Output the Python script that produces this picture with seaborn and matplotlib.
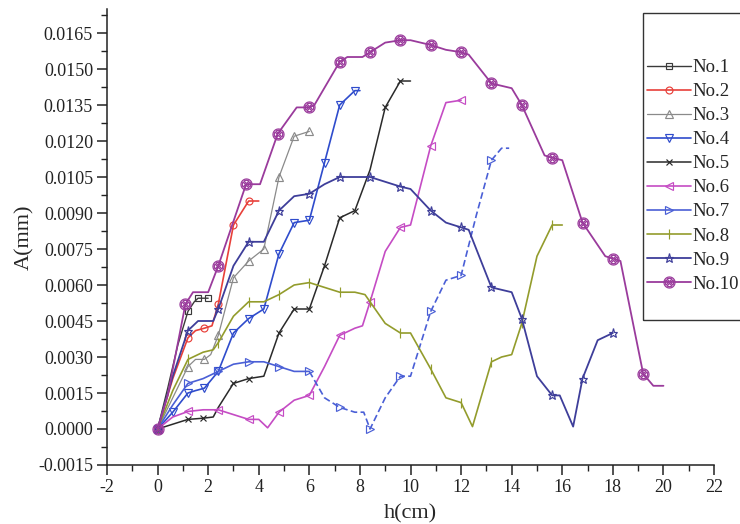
import matplotlib
matplotlib.use("Agg")
import matplotlib.pyplot as plt
import matplotlib.patches as mpatches
import numpy as np
import seaborn as sns

# ---- data: amplitude A (mm) versus height h (cm) ----
labels = ["No.1", "No.2", "No.3", "No.4", "No.5", "No.6", "No.7", "No.8", "No.9", "No.10"]

h1 = [0, 0.4, 0.8, 1.2, 1.45, 1.6, 2.0]
a1 = [0, 0.0017, 0.0035, 0.0049, 0.0053, 0.00545, 0.00545]
m1 = [0, 3, 5, 6]

h2 = [0, 0.6, 1.2, 1.5, 1.85, 2.15, 2.4, 3.0, 3.6, 4.0]
a2 = [0, 0.0021, 0.0038, 0.0041, 0.0042, 0.0043, 0.0052, 0.0085, 0.0095, 0.0095]
m2 = [0, 2, 4, 6, 7, 8]

h3 = [0, 0.6, 1.2, 1.5, 1.85, 2.1, 2.4, 3.0, 3.6, 4.2, 4.8, 5.4, 6.0]
a3 = [0, 0.0013, 0.0026, 0.0029, 0.0029, 0.0031, 0.0039, 0.0063, 0.0070, 0.0075, 0.0105, 0.0122, 0.0124]
m3 = [0, 2, 4, 6, 7, 8, 9, 10, 11, 12]

h4 = [0, 0.6, 1.2, 1.5, 1.85, 2.4, 3.0, 3.6, 4.2, 4.8, 5.4, 6.0, 6.6, 7.2, 7.8, 8.0]
a4 = [0, 0.0007, 0.0015, 0.0016, 0.0017, 0.0024, 0.0040, 0.0046, 0.0050, 0.0073, 0.0086, 0.0087,
      0.0111, 0.0135, 0.0141, 0.0141]
m4 = [0, 1, 2, 4, 5, 6, 7, 8, 9, 10, 11, 12, 13, 14]

h5 = [0, 0.6, 1.2, 1.8, 2.2, 2.4, 3.0, 3.6, 4.2, 4.8, 5.4, 6.0, 6.6, 7.2, 7.8, 8.4, 9.0, 9.6, 10.0]
a5 = [0, 0.0002, 0.0004, 0.00045, 0.0005, 0.0009, 0.0019, 0.0021, 0.0022, 0.0040, 0.0050, 0.0050,
      0.0068, 0.0088, 0.0091, 0.0108, 0.0134, 0.0145, 0.0145]
m5 = [0, 2, 3, 6, 7, 9, 10, 11, 12, 13, 14, 16, 17]

h6 = [0, 0.6, 1.2, 1.8, 2.4, 3.0, 3.6, 4.0, 4.35, 4.8, 5.4, 6.0, 6.6, 7.2, 7.8, 8.1, 8.4, 9.0,
      9.6, 10.0, 10.8, 11.4, 12.0]
a6 = [0, 0.0005, 0.00073, 0.0008, 0.0008, 0.0006, 0.0004, 0.0004, 0.00005, 0.0007, 0.0012, 0.0014,
      0.0026, 0.0039, 0.0042, 0.0043, 0.0053, 0.0074, 0.0084, 0.0085, 0.0118, 0.0136, 0.0137]
m6 = [0, 2, 4, 6, 9, 11, 13, 16, 18, 20, 22]

h7 = [0, 0.6, 1.2, 1.8, 2.4, 3.0, 3.6, 4.2, 4.8, 5.4, 6.0, 6.6, 7.2, 7.8, 8.15, 8.4, 9.0, 9.6,
      10.0, 10.8, 11.4, 12.0, 12.6, 13.2, 13.6, 13.9]
a7 = [0, 0.0010, 0.0019, 0.0021, 0.0024, 0.0027, 0.0028, 0.0028, 0.0026, 0.0024, 0.0024, 0.0013,
      0.0009, 0.0007, 0.0007, 0.0000, 0.0013, 0.0022, 0.0022, 0.0049, 0.0062, 0.0064, 0.0089,
      0.0112, 0.0117, 0.0117]
m7 = [0, 2, 4, 6, 8, 10, 12, 15, 17, 19, 21, 23]
dash_from7 = 10

h8 = [0, 0.6, 1.2, 1.8, 2.2, 2.4, 3.0, 3.6, 4.2, 4.8, 5.4, 6.0, 6.6, 7.2, 7.8, 8.2, 8.4, 9.0,
      9.6, 10.0, 10.8, 11.4, 12.0, 12.45, 13.2, 13.6, 14.0, 14.4, 15.0, 15.6, 16.0]
a8 = [0, 0.0016, 0.0029, 0.0032, 0.0033, 0.0036, 0.0047, 0.0053, 0.0053, 0.0056, 0.0060, 0.0061,
      0.0059, 0.0057, 0.0057, 0.0056, 0.0053, 0.0044, 0.0040, 0.0040, 0.0025, 0.0013, 0.0011,
      0.0001, 0.0028, 0.0030, 0.0031, 0.0044, 0.0072, 0.0085, 0.0085]
m8 = [0, 2, 5, 7, 9, 11, 13, 16, 18, 20, 22, 24, 27, 29]

h9 = [0, 0.6, 1.2, 1.6, 2.2, 2.4, 3.0, 3.6, 4.2, 4.8, 5.4, 6.0, 6.6, 7.2, 7.8, 8.4, 9.0, 9.6,
      10.0, 10.8, 11.4, 12.0, 12.3, 13.2, 13.6, 14.0, 14.4, 15.0, 15.6, 15.9, 16.43, 16.8, 17.4, 18.0]
a9 = [0, 0.0022, 0.0041, 0.0045, 0.0045, 0.0050, 0.0068, 0.0078, 0.0078, 0.0091, 0.0097, 0.0098,
      0.0102, 0.0105, 0.0105, 0.0105, 0.0103, 0.0101, 0.0100, 0.0091, 0.0086, 0.0084, 0.0083,
      0.0059, 0.0058, 0.0057, 0.0046, 0.0022, 0.0014, 0.0014, 0.0001, 0.0021, 0.0037, 0.0040]
m9 = [0, 2, 5, 7, 9, 11, 13, 15, 17, 19, 21, 23, 26, 28, 31, 33]

h10 = [0, 0.4, 1.1, 1.4, 2.0, 2.4, 3.5, 4.05, 4.75, 5.5, 6.0, 6.2, 7.2, 7.5, 8.1, 8.4, 9.0, 9.6,
       10.0, 10.8, 11.4, 12.0, 12.3, 13.2, 14.0, 14.4, 15.3, 15.6, 16.0, 16.8, 17.7, 18.0, 18.3,
       19.2, 19.6, 20.0]
a10 = [0, 0.0014, 0.0052, 0.0057, 0.0057, 0.0068, 0.0102, 0.0102, 0.0123, 0.0134, 0.0134, 0.0135,
       0.0153, 0.0155, 0.0155, 0.0157, 0.0161, 0.0162, 0.0162, 0.0160, 0.0158, 0.0157, 0.0156,
       0.0144, 0.0142, 0.0135, 0.0114, 0.0113, 0.0112, 0.0086, 0.0072, 0.0071, 0.0070, 0.0023,
       0.0018, 0.0018]
m10 = [0, 2, 5, 6, 8, 10, 12, 15, 17, 19, 21, 23, 25, 27, 29, 31, 33]

x_ticks = [-2, 0, 2, 4, 6, 8, 10, 12, 14, 16, 18, 20, 22]
y_ticks = [-0.0015, 0.0, 0.0015, 0.0030, 0.0045, 0.0060, 0.0075, 0.0090, 0.0105,
           0.0120, 0.0135, 0.0150, 0.0165]

series = [(h1, a1, m1), (h2, a2, m2), (h3, a3, m3), (h4, a4, m4), (h5, a5, m5),
          (h6, a6, m6), (h7, a7, m7), (h8, a8, m8), (h9, a9, m9), (h10, a10, m10)]

# ---- styles ----
styles = [
    dict(color="#3a3a3a", marker="s", ms=4, lw=1.0),
    dict(color="#e8403a", marker="o", ms=5, lw=1.2),
    dict(color="#8a8a8a", marker="^", ms=5.5, lw=0.9),
    dict(color="#2f4ccc", marker="v", ms=5.5, lw=1.2),
    dict(color="#2a2a2a", marker="x", ms=4.5, lw=1.1),
    dict(color="#c54cc4", marker="<", ms=6, lw=1.2),
    dict(color="#4a5fd6", marker=">", ms=6, lw=1.2),
    dict(color="#939c2c", marker="|", ms=7, lw=1.2),
    dict(color="#3e3e9a", marker="*", ms=6.5, lw=1.3),
    dict(color="#9a3b9c", marker=r"$\otimes$", ms=8, lw=1.3),
]

sns.set_style("ticks")
plt.rcParams["font.family"] = ["Liberation Serif", "DejaVu Serif"]
plt.rcParams["mathtext.fontset"] = "dejavuserif"

fig = plt.figure(figsize=(7.4, 5.24), dpi=100)
ax = fig.add_axes([0.1446, 0.1126, 0.8203, 0.8702])

handles = []
for (h, a, m), st, lab in zip(series, styles, labels):
    kw = dict(color=st["color"], marker=st["marker"], markersize=st["ms"],
              markerfacecolor="none", markeredgecolor=st["color"],
              markeredgewidth=0.85, linewidth=st["lw"], estimator=None, sort=False, ax=ax)
    if lab == "No.7":
        k = dash_from7
        sns.lineplot(x=h[:k + 1], y=a[:k + 1],
                     markevery=[i for i in m if i <= k], **kw)
        handles.append(ax.lines[-1])
        sns.lineplot(x=h[k:], y=a[k:], linestyle=(0, (4, 2)),
                     markevery=[i - k for i in m if i > k], **kw)
    else:
        sns.lineplot(x=h, y=a, markevery=m, **kw)
        handles.append(ax.lines[-1])

ax.set_xlim(-2, 22)
ax.set_ylim(-0.0015, 0.0175)
ax.set_xticks(x_ticks)
ax.set_xticklabels([f"{v:d}" for v in x_ticks])
ax.set_yticks(y_ticks)
ax.set_yticklabels([f"{v:.4f}" for v in y_ticks])
ax.set_xticks(np.arange(-1, 22, 2), minor=True)
ax.set_yticks(np.arange(-0.00075, 0.0175, 0.0015), minor=True)

sns.despine(ax=ax)
for s in ("left", "bottom"):
    ax.spines[s].set_linewidth(1.1)
    ax.spines[s].set_color("#222222")
ax.tick_params(which="major", direction="out", length=7, width=1.1, colors="#222222",
               labelsize=13, pad=3)
ax.tick_params(which="minor", direction="out", length=4, width=1.0, colors="#222222")

ax.set_xlabel("h(cm)", fontsize=16, labelpad=6)
ax.set_ylabel("A(mm)", fontsize=16, labelpad=3)

# legend inside a box at the right edge
box = mpatches.Rectangle((643 / 740, 1 - 320 / 524), 0.2, (320 - 13) / 524,
                         transform=fig.transFigure, fill=False, edgecolor="#333333",
                         linewidth=1.0, clip_on=False)
fig.patches.append(box)
fig.legend(handles, labels, loc="upper left", bbox_to_anchor=(647 / 740, 1 - 59 / 524),
           frameon=False, fontsize=13.5, handlelength=2.35, handletextpad=0.05,
           labelspacing=0.37, borderpad=0, borderaxespad=0)

fig.savefig("out.png", dpi=100)
